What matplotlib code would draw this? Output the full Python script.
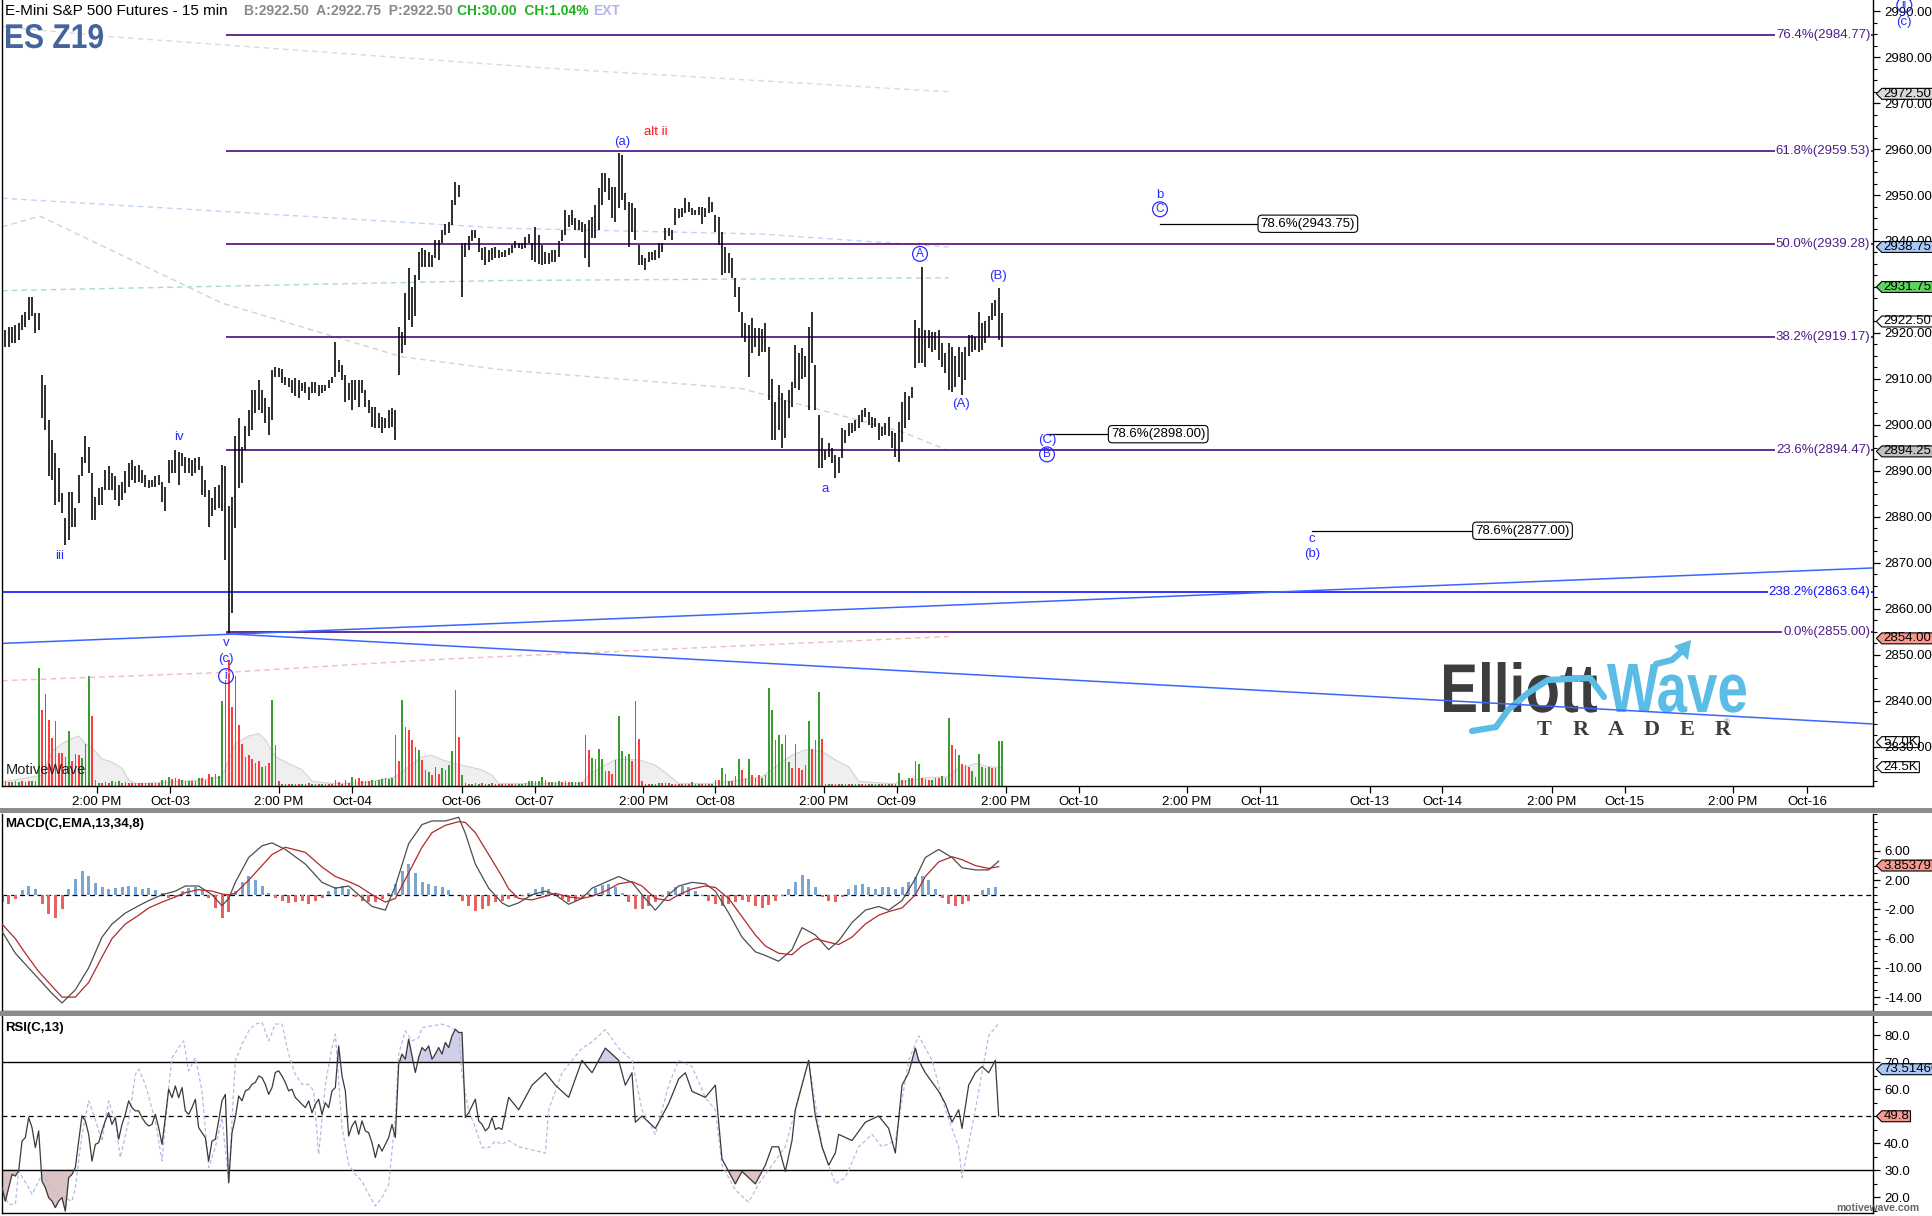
import numpy as np
import matplotlib
matplotlib.use('Agg')
import matplotlib.pyplot as plt
import matplotlib.transforms as mtransforms
from matplotlib.path import Path
from matplotlib.patches import Rectangle, Polygon, PathPatch
from matplotlib.lines import Line2D
from matplotlib.textpath import TextPath
from matplotlib.font_manager import FontProperties
from matplotlib.ticker import MultipleLocator

plt.rcParams['font.family'] = ['Liberation Sans', 'DejaVu Sans']

# ---------------- price bars (30 min samples of the 15 min chart) ----------------
price_high = [
    2926.5, 2920.7, 2921.4, 2921.4, 2921.8, 2922.1, 2923.9, 2924.6, 2927.9, 2927.9,
    2924.3, 2924.3, 2910.9, 2908.7, 2901.1, 2896.7, 2893.8, 2890.6, 2885.2, 2879.7,
    2885.5, 2885.5, 2881.9, 2889.1, 2893.1, 2897.5, 2895.3, 2889.5, 2884.4, 2886.2,
    2886.6, 2890.2, 2891.0, 2889.5, 2888.8, 2887.0, 2887.7, 2889.9, 2891.7, 2892.4,
    2891.0, 2891.3, 2890.2, 2889.1, 2888.1, 2888.1, 2888.8, 2889.1, 2887.7, 2886.6,
    2892.4, 2892.4, 2894.6, 2894.2, 2893.8, 2893.1, 2892.8, 2892.4, 2892.8, 2893.1,
    2891.0, 2888.1, 2885.9, 2884.1, 2886.6, 2887.0, 2891.3, 2891.0, 2882.3, 2884.4,
    2897.5, 2901.5, 2895.3, 2899.7, 2903.3, 2907.6, 2907.6, 2909.8, 2907.6, 2905.8,
    2904.0, 2912.0, 2912.5, 2912.3, 2912.2, 2910.5, 2910.2, 2909.8, 2910.2, 2909.8,
    2909.1, 2909.4, 2908.3, 2909.4, 2909.4, 2908.7, 2908.7, 2908.7, 2909.8, 2910.5,
    2918.1, 2914.1, 2913.0, 2910.9, 2909.1, 2909.8, 2909.8, 2909.8, 2909.8, 2907.6,
    2905.4, 2904.0, 2904.0, 2902.5, 2901.8, 2901.5, 2903.3, 2903.6, 2903.3, 2921.4,
    2920.3, 2928.6, 2934.1, 2930.1, 2932.6, 2937.7, 2938.4, 2938.1, 2937.7, 2937.0,
    2940.2, 2940.2, 2942.4, 2943.8, 2944.2, 2948.9, 2952.9, 2952.2, 2939.5, 2939.5,
    2941.0, 2942.4, 2942.4, 2940.6, 2938.4, 2938.8, 2938.1, 2938.4, 2938.8, 2938.1,
    2937.7, 2938.0, 2938.4, 2939.1, 2940.0, 2939.6, 2939.5, 2940.9, 2941.5, 2939.5,
    2943.1, 2941.3, 2939.1, 2937.7, 2937.3, 2938.0, 2938.0, 2939.9, 2942.4, 2946.7,
    2945.7, 2946.7, 2944.9, 2944.6, 2944.2, 2943.8, 2944.6, 2945.3, 2947.8, 2951.5,
    2954.7, 2954.7, 2953.6, 2951.8, 2951.8, 2959.1, 2958.7, 2950.4, 2948.5, 2948.2,
    2947.1, 2939.1, 2937.0, 2936.2, 2937.7, 2937.7, 2938.0, 2939.5, 2939.5, 2942.8,
    2942.8, 2942.4, 2947.1, 2946.9, 2947.1, 2949.3, 2948.5, 2947.1, 2946.7, 2947.5,
    2947.5, 2947.1, 2949.6, 2948.5, 2945.6, 2945.3, 2942.0, 2938.8, 2937.3, 2936.2,
    2931.9, 2930.1, 2924.6, 2922.1, 2921.7, 2923.2, 2921.0, 2921.0, 2920.8, 2922.1,
    2917.0, 2910.1, 2905.1, 2908.7, 2906.9, 2905.4, 2907.6, 2909.4, 2917.4, 2915.6,
    2916.7, 2914.9, 2921.4, 2924.6, 2913.0, 2902.2, 2897.1, 2894.6, 2896.0, 2894.9,
    2893.5, 2893.1, 2899.3, 2898.9, 2900.4, 2900.4, 2901.1, 2902.2, 2903.3, 2903.6,
    2902.9, 2901.8, 2901.5, 2900.4, 2899.6, 2900.4, 2901.8, 2898.6, 2898.2, 2900.7,
    2905.1, 2907.2, 2906.2, 2908.3, 2922.8, 2921.0, 2934.4, 2920.7, 2920.7, 2920.3,
    2920.3, 2920.7, 2917.8, 2915.6, 2917.8, 2917.0, 2914.9, 2917.0, 2915.9, 2917.0,
    2919.6, 2919.6, 2919.2, 2924.6, 2922.1, 2922.5, 2923.6, 2926.5, 2927.2, 2929.7, 2924.3]
price_low = [
    2922.1, 2917.0, 2917.0, 2917.8, 2917.8, 2918.5, 2920.7, 2921.4, 2922.8, 2923.6,
    2920.0, 2920.7, 2901.5, 2898.9, 2888.8, 2888.1, 2882.6, 2883.3, 2880.8, 2873.9,
    2875.0, 2877.9, 2877.9, 2883.0, 2888.8, 2891.7, 2889.5, 2879.4, 2879.4, 2882.6,
    2882.6, 2885.9, 2885.9, 2885.9, 2883.7, 2882.3, 2883.7, 2885.2, 2886.6, 2888.1,
    2887.3, 2887.7, 2887.3, 2886.6, 2886.2, 2886.6, 2886.6, 2887.0, 2883.3, 2881.2,
    2887.3, 2889.5, 2889.5, 2887.0, 2891.0, 2889.5, 2889.5, 2888.8, 2889.5, 2890.2,
    2884.8, 2884.4, 2877.9, 2880.1, 2881.5, 2881.9, 2881.2, 2870.7, 2854.7, 2859.1,
    2877.5, 2886.2, 2887.3, 2894.6, 2897.5, 2898.9, 2902.5, 2903.3, 2902.5, 2900.4,
    2897.8, 2901.1, 2910.5, 2910.5, 2909.1, 2908.7, 2908.3, 2906.9, 2906.2, 2905.8,
    2907.3, 2906.9, 2905.4, 2906.9, 2906.9, 2906.2, 2906.9, 2907.3, 2908.0, 2909.1,
    2910.5, 2911.6, 2909.8, 2905.1, 2905.4, 2903.3, 2905.4, 2904.0, 2906.9, 2904.0,
    2902.5, 2899.6, 2899.3, 2899.3, 2898.2, 2899.3, 2899.3, 2899.6, 2896.7, 2910.9,
    2915.6, 2917.4, 2922.8, 2921.4, 2923.6, 2931.5, 2934.4, 2934.4, 2934.4, 2934.4,
    2936.2, 2935.9, 2939.5, 2941.3, 2941.7, 2943.5, 2947.8, 2949.6, 2927.9, 2936.6,
    2938.1, 2939.9, 2940.6, 2937.7, 2935.9, 2934.8, 2935.5, 2935.9, 2936.2, 2936.2,
    2936.6, 2936.6, 2937.0, 2937.3, 2938.4, 2938.4, 2938.3, 2938.4, 2939.5, 2935.9,
    2935.5, 2935.1, 2934.8, 2935.1, 2935.1, 2935.5, 2935.4, 2936.6, 2939.9, 2941.3,
    2943.1, 2943.5, 2942.4, 2942.4, 2942.0, 2936.2, 2934.4, 2940.6, 2940.6, 2942.4,
    2947.8, 2950.7, 2948.9, 2944.9, 2944.2, 2947.1, 2948.9, 2946.7, 2938.8, 2942.0,
    2940.2, 2934.8, 2934.8, 2933.7, 2935.5, 2935.9, 2935.9, 2936.2, 2937.7, 2940.2,
    2941.0, 2940.2, 2943.5, 2944.9, 2945.3, 2946.0, 2946.4, 2945.7, 2945.7, 2945.7,
    2943.8, 2945.3, 2946.0, 2946.4, 2942.0, 2939.1, 2932.6, 2933.0, 2933.0, 2931.9,
    2927.9, 2924.6, 2919.2, 2918.1, 2910.5, 2915.6, 2917.0, 2914.9, 2915.9, 2915.9,
    2905.4, 2896.7, 2896.7, 2898.9, 2894.9, 2897.1, 2901.5, 2904.0, 2908.0, 2907.6,
    2910.1, 2910.5, 2903.3, 2913.4, 2903.3, 2890.6, 2890.6, 2892.4, 2893.1, 2891.7,
    2888.4, 2889.5, 2892.8, 2896.0, 2897.5, 2898.2, 2898.6, 2899.3, 2900.7, 2901.8,
    2900.0, 2899.3, 2899.6, 2896.7, 2897.5, 2897.8, 2897.5, 2894.9, 2893.1, 2892.0,
    2896.4, 2899.3, 2901.1, 2905.8, 2912.3, 2913.4, 2913.4, 2912.7, 2916.7, 2915.9,
    2916.3, 2914.1, 2912.7, 2911.2, 2907.6, 2907.2, 2908.3, 2910.5, 2906.5, 2909.8,
    2914.9, 2915.9, 2916.3, 2915.9, 2916.3, 2917.8, 2919.2, 2922.8, 2923.6, 2918.5, 2917.0]

# volume in thousands, 1 = up bar (green), 0 = down bar (red)
volume_k = [
    6, 6, 5, 5, 6, 5, 6, 5, 6, 6, 7, 154, 99, 120, 86, 62, 84, 43, 43, 38,
    72, 32, 42, 40, 36, 54, 143, 91, 8, 4, 4, 5, 4, 6, 5, 6, 4, 5, 4, 4,
    4, 4, 4, 4, 4, 4, 4, 4, 8, 8, 12, 9, 10, 9, 8, 6, 6, 7, 6, 10,
    10, 8, 16, 12, 16, 13, 110, 138, 164, 103, 143, 79, 55, 38, 40, 35, 30, 32, 25, 26,
    30, 112, 53, 6, 3, 3, 3, 3, 3, 3, 3, 3, 4, 3, 3, 3, 3, 3, 3, 3,
    8, 5, 3, 8, 4, 12, 9, 10, 6, 7, 7, 8, 7, 8, 9, 10, 9, 10, 66, 33,
    112, 77, 73, 60, 51, 47, 34, 21, 18, 14, 25, 16, 23, 21, 27, 45, 125, 64, 14, 4,
    3, 3, 4, 3, 4, 3, 3, 4, 3, 3, 3, 3, 3, 3, 3, 3, 3, 4, 6, 7,
    7, 6, 12, 8, 5, 5, 5, 6, 5, 6, 5, 5, 5, 5, 5, 66, 47, 37, 35, 48,
    35, 20, 20, 15, 34, 91, 45, 39, 42, 32, 110, 61, 6, 3, 3, 3, 3, 4, 4, 4,
    4, 3, 3, 3, 3, 3, 3, 5, 3, 3, 3, 3, 3, 3, 8, 8, 23, 16, 7, 7,
    13, 35, 21, 11, 35, 14, 11, 14, 11, 14, 128, 99, 60, 66, 55, 66, 31, 23, 55, 23,
    21, 27, 84, 48, 60, 122, 61, 3, 3, 3, 3, 3, 3, 3, 3, 3, 3, 3, 3, 3,
    3, 3, 3, 3, 3, 3, 3, 3, 3, 17, 8, 8, 11, 11, 32, 29, 10, 9, 8, 8,
    10, 10, 13, 10, 89, 53, 48, 40, 29, 27, 25, 19, 12, 42, 25, 23, 25, 23, 23, 58, 59]
volume_up = [
    0, 1, 0, 1, 0, 1, 0, 1, 0, 1, 0, 1, 0, 1, 0, 0, 1, 0, 0, 0,
    1, 0, 1, 0, 1, 1, 1, 0, 0, 1, 0, 1, 0, 1, 0, 1, 0, 1, 0, 0,
    1, 0, 0, 1, 0, 0, 1, 0, 1, 0, 1, 0, 1, 0, 1, 0, 1, 0, 1, 1,
    0, 1, 0, 1, 0, 1, 1, 1, 0, 0, 1, 0, 0, 1, 0, 0, 1, 0, 1, 1,
    0, 1, 0, 0, 1, 0, 0, 1, 0, 0, 1, 0, 0, 1, 0, 0, 1, 0, 0, 0,
    1, 0, 0, 1, 0, 1, 1, 0, 0, 1, 0, 1, 0, 1, 1, 0, 1, 1, 1, 0,
    1, 0, 0, 0, 1, 1, 0, 0, 1, 0, 1, 0, 1, 0, 1, 1, 1, 0, 1, 0,
    0, 1, 0, 1, 0, 0, 1, 0, 1, 0, 0, 1, 0, 0, 1, 1, 1, 1, 1, 1,
    0, 1, 1, 1, 0, 1, 0, 1, 0, 1, 0, 1, 0, 1, 0, 1, 0, 1, 1, 1,
    1, 0, 0, 0, 1, 1, 1, 1, 1, 0, 1, 0, 0, 1, 0, 1, 0, 1, 0, 1,
    0, 0, 1, 0, 0, 1, 0, 1, 0, 1, 0, 1, 0, 1, 1, 0, 1, 0, 1, 0,
    1, 1, 0, 0, 1, 0, 1, 0, 1, 0, 1, 1, 0, 1, 1, 1, 1, 0, 1, 0,
    0, 1, 1, 0, 1, 1, 0, 0, 1, 0, 1, 0, 1, 0, 0, 1, 0, 1, 0, 1,
    0, 1, 0, 1, 0, 0, 1, 0, 1, 1, 0, 1, 1, 0, 1, 1, 0, 0, 0, 1,
    1, 0, 1, 0, 1, 0, 0, 1, 0, 0, 0, 1, 0, 1, 1, 0, 1, 0, 1, 1, 1]
vol_avg_idx = [0, 12, 15, 18, 21, 23, 25, 28, 30, 33, 36, 38, 40, 50, 60, 66, 70, 74, 77, 79,
               82, 86, 90, 93, 100, 110, 118, 122, 126, 129, 132, 136, 140, 144, 147, 149, 160, 174, 176, 180,
               184, 187, 191, 196, 200, 203, 212, 222, 228, 232, 237, 241, 246, 250, 254, 257, 267, 277, 284, 286,
               292, 296, 300]
vol_avg_k = [5, 14, 45, 55, 62, 65, 55, 45, 35, 31, 23, 8, 3, 5, 8, 12, 55, 65, 68, 60,
             38, 29, 21, 6, 3, 5, 12, 25, 38, 40, 34, 29, 25, 21, 14, 3, 3, 3, 14, 25,
             34, 35, 34, 27, 14, 3, 3, 8, 12, 25, 40, 47, 45, 34, 25, 6, 3, 11, 12, 21,
             29, 25, 24]

# ---------------- time axis ----------------
time_ticks = [28.4, 50.5, 83.0, 105.0, 137.9, 159.8, 192.4, 214.0, 246.5, 268.4,
              301.2, 323.0, 355.5, 377.4, 410.3, 432.0, 465.0, 486.8, 519.3, 541.5]
time_labels = ['2:00 PM', 'Oct-03', '2:00 PM', 'Oct-04', 'Oct-06', 'Oct-07', '2:00 PM', 'Oct-08',
               '2:00 PM', 'Oct-09', '2:00 PM', 'Oct-10', '2:00 PM', 'Oct-11', 'Oct-13', 'Oct-14',
               '2:00 PM', 'Oct-15', '2:00 PM', 'Oct-16']

# ---------------- studies drawn on the price ----------------
fib_levels = [2984.77, 2959.53, 2939.28, 2919.17, 2894.47, 2855.00]
fib_names = ['76.4%', '61.8%', '50.0%', '38.2%', '23.6%', '0.0%']
fib_start = 67.3
ext_level = 2863.64
ext_name = '238.2%'

trend_up_x, trend_up_y = [0, 561], [2852.5, 2868.9]
trend_dn_x, trend_dn_y = [67.5, 561], [2854.6, 2835.0]

ma_top_x, ma_top_y = [0, 33, 163, 285], [2986.6, 2984.4, 2977.6, 2972.4]
ma_blue_x, ma_blue_y = [0, 150, 228, 284], [2949.3, 2942.8, 2941.5, 2938.7]
ma_green_x, ma_green_y = [0, 150, 284], [2929.2, 2931.4, 2932.0]
ma_gray_x = [0, 11.4, 66, 120, 150, 222, 252, 270, 284]
ma_gray_y = [2943.1, 2945.4, 2926.5, 2914.8, 2912.0, 2907.9, 2902.0, 2898.5, 2894.4]
ma_pink_x, ma_pink_y = [0, 67.5, 130, 284], [2844.4, 2846.2, 2849.0, 2854.0]

# wave labels: text, bar, price, colour, circled
wave_labels = [
    ('iii', 17.4, 2871.5, 'b', False), ('iv', 53, 2897.4, 'b', False),
    ('v', 67.2, 2852.6, 'b', False), ('(c)', 67.2, 2849.2, 'b', False),
    ('i', 67.2, 2845.4, 'b', True), ('(a)', 186, 2961.6, 'b', False),
    ('alt ii', 196, 2963.7, 'r', False), ('a', 247, 2886.1, 'b', False),
    ('A', 275.4, 2937.2, 'b', True), ('(A)', 287.6, 2904.6, 'b', False),
    ('(B)', 298.7, 2932.4, 'b', False), ('(C)', 313.5, 2896.7, 'b', False),
    ('B', 313.5, 2893.6, 'b', True), ('b', 347.4, 2950.0, 'b', False),
    ('C', 347.4, 2946.9, 'b', True), ('c', 393, 2875.3, 'b', False),
    ('(b)', 393, 2871.9, 'b', False), ('ii', 570.7, 2991.3, 'b', True),
    ('(c)', 570.7, 2987.6, 'b', False)]

# projected targets: price, line start bar, box bar
target_price = [2943.75, 2898.00, 2877.00]
target_from = [347.4, 313.5, 393.0]
target_to = [377.6, 332.7, 442.0]

price_tags = [('2972.50', 2972.0, '#d9d9d9'), ('2938.75', 2938.7, '#a9c8f5'),
              ('2931.75', 2930.0, '#5fd35f'), ('2922.50', 2922.5, 'white'),
              ('2894.25', 2894.25, '#c2c2c2'), ('2854.00', 2853.6, '#f69a90')]
volume_tags = [('57.0K', 57.0), ('24.5K', 24.5)]

# ---------------- MACD(C,EMA,13,34,8) ----------------
macd_idx = [0, 4, 7, 11, 15, 18, 22, 26, 30, 33, 37, 41, 44, 48, 52, 55, 59, 63, 66, 68,
            70, 74, 78, 81, 85, 91, 96, 100, 104, 107, 111, 115, 118, 122, 126, 129, 133, 137, 139, 142,
            146, 150, 152, 155, 159, 163, 166, 170, 174, 177, 181, 185, 189, 192, 196, 200, 203, 207, 211, 214,
            218, 222, 226, 229, 233, 237, 240, 244, 248, 251, 255, 259, 263, 266, 270, 274, 277, 281, 285, 288,
            292, 296, 299]
macd_line = [-5, -8, -9.5, -11.5, -13.5, -14.8, -13, -10, -5.8, -4, -2.5, -1.5, -0.8, 0, 0.5, 1.2, 1.2, 0, -1.5, -0.5,
             1.7, 5.1, 6.7, 7.1, 6.2, 4.2, 1.7, 0.9, 1.2, 0, -1.6, -2.1, 1.2, 7.0, 9.6, 10.1, 10.1, 10.6, 8.4, 4.2,
             0.9, -1.1, -1.6, -1.1, 0, 0.5, 0, -1.3, -0.5, 0.9, 1.7, 2.5, 1.7, 0, -2.1, 0, 1.2, 1.7, 1.5, 0.5,
             -2.5, -5.8, -7.8, -8.3, -9.1, -7.5, -4.5, -5.5, -7.5, -6.3, -3.8, -2.1, -1.6, -2.1, -0.8, 2.2, 5.1, 6.2, 5.1, 3.7,
             3.4, 3.4, 4.6]
macd_signal = [-4, -6, -8, -10.5, -12.5, -14, -14, -12, -8.5, -6, -4, -2.8, -1.8, -1, -0.3, 0.3, 0.7, 0.5, 0.1, 0,
               0.2, 2, 4, 5.5, 6.5, 5.8, 3.8, 2.5, 1.8, 1.2, 0, -1, -0.5, 3, 6.5, 8.5, 9.5, 10, 9.9, 8.5,
               5.5, 2.5, 0.8, -0.5, -0.7, -0.2, 0.2, -0.3, -0.5, -0.2, 0.5, 1.5, 1.8, 1.2, -0.5, -0.8, 0, 0.8, 1.2, 1.0,
               -0.5, -3, -5.5, -7, -8, -8.2, -7, -6, -6.5, -6.8, -5.8, -4, -2.8, -2.3, -1.8, 0, 2.5, 4.5, 5.2, 4.8,
               4, 3.6, 3.85]
# histogram, one value every second sample (bars 0, 2, 4, ... 298)
macd_hist = [
    -1.0, -1.3, -0.6, 0.6, 1.2, 0.8, -1.2, -2.6, -3.2, -2.0,
    0.8, 2.2, 3.3, 2.6, 1.6, 1.0, 0.8, 0.9, 1.0, 1.2,
    1.1, 0.8, 0.9, 0.6, 0.2, -0.4, -0.3, 0.5, 0.9, 1.0,
    0.6, -0.5, -1.8, -3.2, -2.4, 0.5, 1.8, 2.5, 2.0, 1.2,
    0.3, -0.5, -0.9, -1.1, -1.0, -0.9, -1.2, -0.8, -0.4, 0.5,
    1.0, 1.2, 0.8, -0.3, -0.8, -1.0, -1.0, -0.6, 0.3, 1.5,
    3.2, 4.2, 3.0, 1.8, 1.5, 1.2, 1.0, 0.6, 0.0, -0.8,
    -1.6, -2.2, -2.0, -1.5, -1.0, -0.8, -0.6, -0.4, -0.2, 0.3,
    0.8, 1.0, 0.8, 0.2, -0.6, -1.0, -0.9, -0.5, 0.2, 0.9,
    1.4, 1.5, 1.1, 0.2, -1.0, -1.9, -2.0, -1.6, -1.0, -0.3,
    0.5, 1.0, 1.2, 1.0, 0.5, -0.2, -0.8, -1.3, -1.5, -1.3,
    -1.0, -0.7, -1.0, -1.5, -1.8, -1.4, -0.8, -0.2, 0.8, 1.8,
    2.7, 2.2, 1.0, -0.3, -0.9, -1.0, -0.3, 0.8, 1.4, 1.5,
    1.0, 0.8, 1.0, 1.1, 0.8, 1.0, 1.8, 2.4, 2.6, 2.0,
    0.8, -0.5, -1.2, -1.5, -1.3, -0.8, 0.0, 0.6, 0.9, 1.0]

# ---------------- RSI(C,13) ----------------
rsi_idx = list(range(0, 151)) + [
    152, 155, 159, 163, 166, 170, 174, 177, 181, 185, 187, 189, 190, 192, 196, 200, 203, 205, 207, 211,
    214, 216, 218, 220, 222, 226, 229, 231, 233, 235, 237, 238, 240, 242, 244, 246, 248, 250, 251, 255,
    259, 263, 266, 268, 270, 272, 274, 275, 277, 281, 283, 285, 287, 288, 290, 292, 294, 296, 298, 299]
rsi_line = [
    23.6, 18.6, 23.6, 28.5, 27.9, 29.7, 40.8, 42.1, 49.5, 45.8, 38.4, 44.6, 26.0, 23.6, 19.9, 18.6, 16.2, 18.6, 19.9, 14.9,
    27.3, 28.5, 31.0, 40.8, 50.1, 48.3, 43.3, 33.4, 39.6, 40.2, 44.6, 48.3, 51.3, 47.0, 49.5, 41.5, 47.0, 50.7, 55.7, 53.2,
    52.0, 52.0, 49.5, 47.6, 46.4, 47.0, 50.7, 45.8, 39.6, 49.5, 60.0, 56.9, 61.2, 56.9, 60.6, 52.0, 50.7, 53.2, 56.3, 45.8,
    43.9, 42.1, 33.4, 40.8, 41.5, 48.3, 55.7, 58.1, 25.4, 43.9, 49.5, 57.5, 55.7, 59.4, 60.0, 61.8, 62.5, 64.9, 64.3, 61.8,
    58.1, 60.6, 66.2, 66.8, 64.9, 62.5, 59.4, 60.0, 56.9, 55.7, 54.4, 53.2, 55.7, 51.3, 54.4, 56.3, 50.7, 55.0, 53.2, 59.4,
    60.6, 76.0, 64.9, 59.4, 42.7, 46.4, 48.3, 43.3, 48.3, 44.6, 43.9, 40.2, 34.7, 39.6, 37.1, 39.6, 42.1, 47.0, 42.1, 69.2,
    73.0, 71.1, 78.5, 72.3, 66.2, 71.7, 75.4, 74.2, 76.0, 71.1, 73.0, 75.4, 73.0, 77.3, 75.4, 79.7, 82.2, 81.0, 81.0, 49.5,
    51.3, 53.8, 56.3, 48.3, 47.0, 44.6, 45.8, 49.5, 45.1, 45.8, 45.1,
    57.0, 52.4, 61.5, 66.1, 61.5, 57.0, 70.7, 66.1, 75.2, 70.7, 61.5, 66.1, 47.8, 50.1, 45.5, 54.7, 63.8, 66.1, 59.2, 57.0,
    61.5, 34.2, 29.6, 25.0, 29.6, 25.0, 31.9, 38.7, 38.7, 29.6, 41.0, 52.4, 61.5, 70.7, 50.1, 38.7, 31.9, 36.4, 43.3, 41.0,
    47.8, 50.1, 45.5, 36.4, 61.5, 66.1, 75.2, 70.7, 66.1, 59.2, 54.7, 47.8, 52.4, 45.5, 61.5, 66.1, 68.4, 66.1, 70.7, 50.1]
rsi_slow_idx = [
    0, 2, 4, 5, 8, 9, 12, 14, 17, 21, 22, 24, 26, 27.5, 30, 32, 34, 35.5, 38, 40,
    41, 43, 46, 48, 50, 51, 53, 54.5, 56, 58, 60, 62, 64, 66, 68, 70, 72, 74, 76, 78,
    80, 82, 84, 86, 88, 90, 92, 93.5, 95, 97, 99, 100, 102, 104, 106, 108, 110, 112, 114, 116,
    118, 119, 121, 123, 125, 126, 129, 132, 135, 137, 138, 140, 142, 144, 146, 148, 150,
    152, 155, 163, 164, 168, 174, 177, 181, 185, 189, 192, 196, 200, 203, 207, 211, 214, 216, 220, 224,
    227, 231, 235, 238, 242, 246, 250, 253, 257, 261, 264, 268, 272, 275, 279, 283, 287, 288, 292, 296, 299]
rsi_slow = [
    23.6, 17.4, 17.4, 29.7, 23.6, 21.1, 28.5, 25.4, 20.5, 18.6, 23.6, 43.3, 55.7, 50.7, 40.8, 55.7, 48.3, 34.7, 48.3, 65.5,
    67.4, 61.8, 48.3, 33.4, 60.6, 71.7, 75.4, 77.9, 66.8, 71.7, 59.4, 31.0, 38.4, 49.5, 26.0, 70.5, 76.6, 81.6, 84.1, 84.7,
    77.9, 84.1, 84.1, 73.0, 65.5, 61.8, 61.8, 59.4, 35.9, 61.8, 75.4, 80.4, 45.8, 32.2, 28.5, 26.0, 21.1, 16.8, 19.9, 24.8,
    49.5, 73.0, 81.6, 77.9, 79.1, 82.8, 83.4, 84.1, 82.8, 81.0, 65.5, 52.0, 45.8, 38.4, 38.4, 40.8, 39.6,
    41.0, 38.7, 36.4, 52.4, 66.1, 75.2, 77.5, 82.1, 75.2, 70.7, 52.4, 43.3, 61.5, 70.7, 68.4, 57.0, 52.4, 31.9, 22.7, 18.2,
    25.0, 31.9, 38.7, 52.4, 70.7, 38.7, 25.0, 27.3, 38.7, 43.3, 38.7, 41.0, 70.7, 79.8, 70.7, 52.4, 38.7, 27.3, 52.4, 79.8, 84.3]

# ---------------- layout ----------------
W, H = 1932, 1216
fig = plt.figure(figsize=(W / 100, H / 100), dpi=100)
fig.patch.set_facecolor('white')


def fx(px):
    return px / W


def fy(py):
    return 1 - py / H


X_LEFT, X_AXIS = 2, 1873
XLIM = (0.0, 561.3)
BLUE = '#2b2bff'
PURPLE = '#4b0a82'
FS = 9.5

ax = fig.add_axes([fx(X_LEFT), fy(786), fx(X_AXIS) - fx(X_LEFT), 786 / H])
axv = fig.add_axes([fx(X_LEFT), fy(786), fx(X_AXIS) - fx(X_LEFT), 786 / H], sharex=ax)
axm = fig.add_axes([fx(X_LEFT), fy(1011), fx(X_AXIS) - fx(X_LEFT), (1011 - 814) / H], sharex=ax)
axr = fig.add_axes([fx(X_LEFT), fy(1213), fx(X_AXIS) - fx(X_LEFT), (1213 - 1016) / H], sharex=ax)
axv.set_zorder(0)
ax.set_zorder(1)
ax.patch.set_visible(False)

for a in (ax, axm, axr):
    a.spines['top'].set_visible(False)
    for s in ('left', 'right', 'bottom'):
        a.spines[s].set_color('black')
        a.spines[s].set_linewidth(1.0)
    a.yaxis.tick_right()
    a.tick_params(axis='y', which='major', direction='out', length=5, width=0.9,
                  labelsize=FS, pad=3, colors='black')
    a.tick_params(axis='y', which='minor', direction='out', length=3, width=0.8)
ax.set_xlim(*XLIM)

# separators between panels
for top in (808, 1011):
    fig.add_artist(Rectangle((0, fy(top + 5)), 1, 5 / H, transform=fig.transFigure,
                             facecolor='#8c8c8c', edgecolor='none', zorder=5))

# ---------------- volume ----------------
bar_idx = np.arange(len(price_high))
vol_colors = ['#3a9d32' if u else '#ff3b3b' for u in volume_up]
axv.fill_between(vol_avg_idx, 0, vol_avg_k, color='#efefef', zorder=1)
axv.plot(vol_avg_idx, vol_avg_k, color='#d4d4d4', lw=0.8, zorder=1)
axv.bar(bar_idx, volume_k, width=0.5, color=vol_colors, zorder=2)
axv.set_ylim(0, 786 * 1.3)
axv.axis('off')

# ---------------- price panel ----------------
ax.set_ylim(2821.5, 2992.4)
ax.set_yticks(np.arange(2830, 2991, 10))
ax.set_yticklabels([f'{v:.2f}' for v in np.arange(2830, 2991, 10)])
ax.yaxis.set_minor_locator(MultipleLocator(2.5))
ax.set_xticks(time_ticks)
ax.set_xticklabels(time_labels)
ax.tick_params(axis='x', direction='out', length=5, width=0.9, labelsize=FS, pad=2)

dash = (0, (4, 3))
ax.plot(ma_top_x, ma_top_y, color='#dadada', lw=1.0, ls=dash, zorder=1)
ax.plot(ma_blue_x, ma_blue_y, color='#c3d3f5', lw=1.0, ls=dash, zorder=1)
ax.plot(ma_green_x, ma_green_y, color='#acdcc4', lw=1.0, ls=dash, zorder=1)
ax.plot(ma_gray_x, ma_gray_y, color='#d2d2d2', lw=1.0, ls=dash, zorder=1)
ax.plot(ma_pink_x, ma_pink_y, color='#f7b9b9', lw=1.0, ls=dash, zorder=1)

ax.hlines(fib_levels, fib_start, XLIM[1], color=PURPLE, lw=1.2, zorder=2)
ax.axhline(ext_level, color='#1010ff', lw=1.2, zorder=2)
ax.plot(trend_up_x, trend_up_y, color='#3a66ff', lw=1.1, zorder=2)
ax.plot(trend_dn_x, trend_dn_y, color='#3a66ff', lw=1.1, zorder=2)

ax.vlines(bar_idx, price_low, price_high, colors='black', lw=1.15, zorder=3)

lab_tr = mtransforms.blended_transform_factory(ax.transAxes, ax.transData)
for name, lvl in zip(fib_names, fib_levels):
    ax.text(0.9985, lvl, f'{name}({lvl:.2f})', transform=lab_tr, ha='right', va='center',
            fontsize=FS, color='#4f1d8a', zorder=4,
            bbox=dict(facecolor='white', edgecolor='none', pad=0.6))
ax.text(0.9985, ext_level, f'{ext_name}({ext_level:.2f})', transform=lab_tr, ha='right',
        va='center', fontsize=FS, color='#1010ff', zorder=4,
        bbox=dict(facecolor='white', edgecolor='none', pad=0.6))

for p, x0, x1 in zip(target_price, target_from, target_to):
    ax.plot([x0, x1], [p, p], color='black', lw=0.9, zorder=4)
    ax.text(x1, p, f'78.6%({p:.2f})', ha='left', va='center', fontsize=FS, zorder=5,
            bbox=dict(boxstyle='round,pad=0.2,rounding_size=0.3', facecolor='white',
                      edgecolor='black', lw=0.8))

for txt, xi, py, col, circ in wave_labels:
    c = BLUE if col == 'b' else '#ff1010'
    kw = dict(ha='center', va='center', fontsize=FS, color=c, zorder=6, clip_on=False)
    if circ:
        kw['bbox'] = dict(boxstyle='circle,pad=0.12', facecolor='none', edgecolor=c, lw=0.9)
        kw['fontsize'] = 8.5
    ax.text(xi, py, txt, **kw)

ax.text(0.002, 0.012, 'MotiveWave', transform=ax.transAxes, fontsize=10.5, color='#222222',
        ha='left', va='bottom', zorder=6)


# arrow shaped value tags on the right axis
def tag_shape(x0, y0, width, height, mutation_size):
    pad = 0.22 * mutation_size
    x0 = x0 - pad * 0.5
    w = width + pad * 1.0
    y0 = y0 + 0.04 * mutation_size
    h = height - 0.08 * mutation_size
    tip = h * 0.5
    verts = [(x0 - tip, y0 + h / 2), (x0, y0 + h), (x0 + w, y0 + h), (x0 + w, y0),
             (x0, y0), (x0 - tip, y0 + h / 2)]
    codes = [Path.MOVETO] + [Path.LINETO] * 4 + [Path.CLOSEPOLY]
    return Path(verts, codes)


def add_tag(axis, label, yval, color):
    tr = mtransforms.blended_transform_factory(axis.transAxes, axis.transData)
    axis.annotate(label, xy=(1.0, yval), xycoords=tr, xytext=(7.4, 0),
                  textcoords='offset points', ha='left', va='center', fontsize=FS,
                  annotation_clip=False, zorder=10,
                  bbox=dict(boxstyle=tag_shape, facecolor=color, edgecolor='black', lw=0.8))


for label, yv, col in price_tags:
    add_tag(ax, label, yv, col)
for label, yv in volume_tags:
    add_tag(axv, label, yv, 'white')

# ---------------- MACD panel ----------------
axm.set_ylim(-15.9, 11.05)
axm.set_yticks([6, 2, -2, -6, -10, -14])
axm.set_yticklabels([f'{v:.2f}' for v in [6, 2, -2, -6, -10, -14]])
axm.yaxis.set_minor_locator(MultipleLocator(1))
axm.tick_params(axis='x', bottom=False, labelbottom=False)
axm.axhline(0, color='black', lw=0.9, ls=(0, (4, 3)), zorder=1)
hist_x = np.arange(0, 2 * len(macd_hist), 2)
hist_colors = ['#7aa6d2' if v >= 0 else '#e86262' for v in macd_hist]
axm.bar(hist_x, macd_hist, width=0.9, color=hist_colors, zorder=2)
axm.plot(macd_idx, macd_line, color='#4d4d4d', lw=0.9, zorder=3)
axm.plot(macd_idx, macd_signal, color='#b02a2a', lw=0.9, zorder=3)
add_tag(axm, '3.85379', 4.0, '#f69a90')

# ---------------- RSI panel ----------------
axr.set_ylim(14.2, 87.1)
axr.set_yticks([20, 30, 40, 50, 60, 70, 80])
axr.set_yticklabels([f'{v:.1f}' for v in [20, 30, 40, 50, 60, 70, 80]])
axr.yaxis.set_minor_locator(MultipleLocator(5))
axr.tick_params(axis='x', bottom=False, labelbottom=False)
rsi_x = np.array(rsi_idx, dtype=float)
rsi_y = np.array(rsi_line)
axr.fill_between(rsi_x, rsi_y, 30, where=rsi_y < 30, interpolate=True, color='#dcc3c3', zorder=1)
axr.fill_between(rsi_x, rsi_y, 70, where=rsi_y > 70, interpolate=True, color='#cfcfe9', zorder=1)
axr.axhline(70, color='black', lw=1.0, zorder=2)
axr.axhline(30, color='black', lw=1.0, zorder=2)
axr.axhline(50, color='black', lw=0.9, ls=(0, (4, 3)), zorder=2)
axr.plot(rsi_slow_idx, rsi_slow, color='#b9b9e6', lw=0.9, ls=(0, (3, 2)), zorder=2)
axr.plot(rsi_x, rsi_y, color='#3a3a3a', lw=0.9, zorder=3)
add_tag(axr, '73.51466', 67.4, '#a9c8f5')
add_tag(axr, '49.8', 50.0, '#f69a90')

# ---------------- header, panel titles ----------------
fig.text(fx(5), fy(11), 'E-Mini S&P 500 Futures - 15 min', fontsize=11, color='black',
         ha='left', va='center')
fig.text(fx(244), fy(11), 'B:2922.50  A:2922.75  P:2922.50', fontsize=10, weight='bold',
         color='#8a8a8a', ha='left', va='center')
fig.text(fx(457), fy(11), 'CH:30.00  CH:1.04%', fontsize=10, weight='bold', color='#1fb21f',
         ha='left', va='center')
fig.text(fx(593), fy(11), 'EXT', fontsize=10, weight='bold', color='#b4b4f0', ha='left', va='center')


def condensed(s, left, right, top, base, color, family='Liberation Sans', weight='bold', z=6):
    # text squeezed into a pixel box (left/right, top/baseline measured from the top edge)
    tp = TextPath((0, 0), s, size=100, prop=FontProperties(family=family, weight=weight))
    bb = tp.get_extents()
    tr = (mtransforms.Affine2D().translate(-bb.x0, 0)
          .scale((right - left) / bb.width, (base - top) / bb.y1)
          .translate(left, H - base))
    patch = PathPatch(tp, transform=tr, facecolor=color, edgecolor='none', zorder=z)
    patch.set_clip_on(False)
    return patch


fig.add_artist(condensed('ES Z19', 6, 103, 24, 48, '#44649b'))

fig.text(fx(5), fy(824), 'MACD(C,EMA,13,34,8)', fontsize=FS, weight='bold', ha='left', va='center')
fig.text(fx(5), fy(1028), 'RSI(C,13)', fontsize=FS, weight='bold', ha='left', va='center')
fig.text(fx(1836), fy(1208), 'motivewave.com', fontsize=7.5, weight='bold', color='#666666',
         ha='left', va='center', zorder=12)

# ---------------- Elliott Wave Trader logo ----------------
ax.add_patch(condensed('Elliott', 1444, 1597, 662, 712, '#3d3d3d', z=0.5))
ax.add_patch(condensed('Wave', 1607, 1746, 664, 712, '#5bbde6', z=0.5))
for k, ch in enumerate('TRADER'):
    ax.text(fx(1537 + 35.6 * k), fy(735), ch, fontsize=16, color='#3d3d3d', weight='bold',
            family=['Liberation Serif', 'DejaVu Serif'], transform=fig.transFigure,
            zorder=0.5, va='baseline', ha='left')
ax.text(fx(1724), fy(724), '®', fontsize=6, color='#777777', transform=fig.transFigure,
        zorder=0.5, ha='left', va='baseline')
swoosh = [(1472, 731), (1496, 727), (1508, 710), (1528, 693), (1548, 680), (1590, 678), (1604, 697)]
ax.add_line(Line2D([fx(p[0]) for p in swoosh], [fy(p[1]) for p in swoosh], transform=fig.transFigure,
                   color='#5bbde6', lw=4.5, solid_capstyle='round', solid_joinstyle='round',
                   zorder=0.5))
tail = [(1656, 664), (1672, 660), (1681, 652)]
ax.add_line(Line2D([fx(p[0]) for p in tail], [fy(p[1]) for p in tail], transform=fig.transFigure,
                   color='#5bbde6', lw=4.5, solid_capstyle='round', zorder=0.5))
head = [(1691, 640), (1674, 646), (1688, 660)]
ax.add_patch(Polygon([(fx(p[0]), fy(p[1])) for p in head], closed=True, transform=fig.transFigure,
                     facecolor='#5bbde6', edgecolor='none', zorder=0.5))

fig.savefig('out.png', dpi=100, facecolor='white')
